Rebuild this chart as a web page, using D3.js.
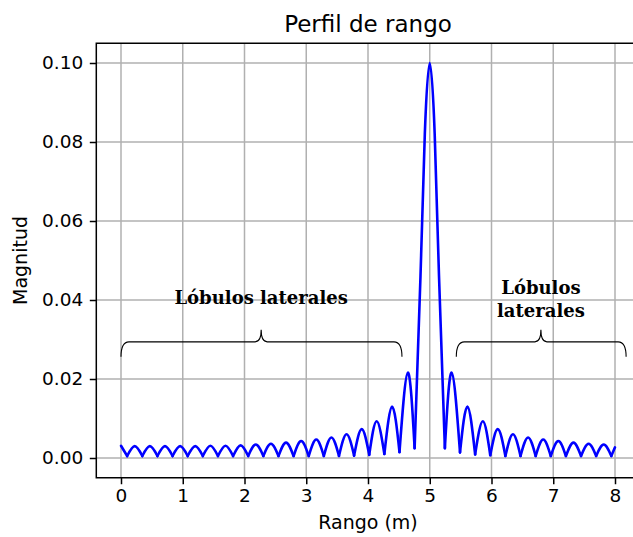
<!DOCTYPE html>
<html><head><meta charset="utf-8">
<script src="https://cdn.jsdelivr.net/npm/d3@7"></script>
<style>html,body{margin:0;padding:0;background:#fff}</style>
</head><body>
<script>
// ---- data ----
const xTicks = [0,1,2,3,4,5,6,7,8];
const yTicks = [0.00,0.02,0.04,0.06,0.08,0.10];
// trough positions (local minima) of the range profile
const troughX = [0.10,0.345,0.59,0.835,1.08,1.325,1.57,1.815,2.06,2.305,2.55,2.795,3.04,3.285,3.53,3.775,4.02,4.265,4.51,4.755,
                 5.245,5.49,5.735,5.98,6.225,6.47,6.715,6.96,7.205,7.45,7.695,7.94];
const troughY = [0.0005,0.0005,0.0005,0.0005,0.0005,0.0005,0.0005,0.0005,0.0005,0.0005,0.0005,0.0005,0.0005,0.0005,0.0005,0.0006,0.0008,0.0010,0.0015,0.0025,
                 0.0025,0.0014,0.0009,0.0007,0.0005,0.0005,0.0005,0.0005,0.0005,0.0005,0.0005,0.0005];
// side-lobe peaks (one per lobe between consecutive troughs, main lobe excluded)
const peakX = [0.2225,0.4675,0.7125,0.9575,1.2025,1.4475,1.6925,1.9375,2.1825,2.4275,2.6725,2.9175,3.1625,3.4075,3.6525,3.8975,4.14,4.39,4.645,
               5.355,5.61,5.86,6.1025,6.3475,6.5925,6.8375,7.0825,7.3275,7.5725,7.8175];
const peakY = [0.0030,0.0030,0.0030,0.0030,0.0030,0.0031,0.0031,0.0032,0.0034,0.0036,0.0039,0.0043,0.0047,0.0052,0.0060,0.0073,0.0093,0.0130,0.0216,
               0.0216,0.0130,0.0093,0.0073,0.0060,0.0052,0.0047,0.0043,0.0039,0.0036,0.0034];
// main lobe samples
const mainX = [4.755,4.85,4.92,5.0,5.08,5.15,5.245];
const mainY = [0.0025,0.046,0.082,0.100,0.082,0.046,0.0025];
// curve ends
const startPt = [0.0, 0.0031];
const endPt = [8.0, 0.0027];

const W = 633, H = 537;
const svg = d3.select("body").append("svg").attr("width", W).attr("height", H)
  .style("font-family", "'DejaVu Sans', sans-serif");

const x = d3.scaleLinear().domain([-0.4, 8.4]).range([96.3, 639.7]);
const y = d3.scaleLinear().domain([-0.005, 0.105]).range([477.75, 43.25]);
const [x0, x1] = x.range(), [y0, y1] = y.range();

svg.append("clipPath").attr("id","clip").append("rect")
  .attr("x", x0).attr("y", y1).attr("width", x1 - x0).attr("height", y0 - y1);

// grid
const grid = svg.append("g").attr("stroke", "#b0b0b0").attr("stroke-width", 1.5);
grid.selectAll(".gx").data(xTicks).join("line")
  .attr("x1", d => x(d)).attr("x2", d => x(d)).attr("y1", y1).attr("y2", y0);
grid.selectAll(".gy").data(yTicks).join("line")
  .attr("y1", d => y(d)).attr("y2", d => y(d)).attr("x1", x0).attr("x2", x1);

// curve: each lobe as trough-peak-trough natural spline
const plot = svg.append("g").attr("clip-path", "url(#clip)");
const line = d3.line().x(d => x(d[0])).y(d => y(d[1])).curve(d3.curveNatural);
const segs = [];
segs.push([startPt, [troughX[0], troughY[0]]]);
let pi = 0;
for (let i = 0; i < troughX.length - 1; i++) {
  if (troughX[i] === 4.755) {
    segs.push(mainX.map((v, j) => [v, mainY[j]]));
  } else {
    segs.push([[troughX[i], troughY[i]], [peakX[pi], peakY[pi]], [troughX[i+1], troughY[i+1]]]);
    pi++;
  }
}
segs.push([[troughX[troughX.length-1], troughY[troughY.length-1]], endPt]);
plot.selectAll("path.lobe").data(segs).join("path")
  .attr("d", d => d.length === 2 ? d3.line().x(p => x(p[0])).y(p => y(p[1]))(d) : line(d))
  .attr("fill", "none").attr("stroke", "#0000ff").attr("stroke-width", 2.6)
  .attr("stroke-linecap", "round").attr("stroke-linejoin", "round");

// braces (annotations)
function brace(xa, xb, xm, yl) {
  const X0 = x(xa), X1 = x(xb), XM = x(xm), YL = y(yl);
  const r = 8, drop = 15, tip = 12;
  return `M${X0},${YL+drop} Q${X0},${YL} ${X0+r},${YL} L${XM-6},${YL} Q${XM},${YL} ${XM},${YL-tip} ` +
         `Q${XM},${YL} ${XM+6},${YL} L${X1-r},${YL} Q${X1},${YL} ${X1},${YL+drop}`;
}
const ann = svg.append("g");
ann.append("path").attr("d", brace(0.0, 4.55, 2.27, 0.0294)).attr("fill","none").attr("stroke","#000").attr("stroke-width",1.1);
ann.append("path").attr("d", brace(5.43, 8.18, 6.8, 0.0294)).attr("fill","none").attr("stroke","#000").attr("stroke-width",1.1);
const serif = "'DejaVu Serif', serif";
const afs = "18px";
ann.append("text").attr("x", x(2.27)).attr("y", y(0.0389)).attr("text-anchor","middle")
  .style("font-family", serif).style("font-weight","bold").style("font-size",afs).text("Lóbulos laterales");
ann.append("text").attr("x", x(6.8)).attr("y", y(0.0414)).attr("text-anchor","middle")
  .style("font-family", serif).style("font-weight","bold").style("font-size",afs).text("Lóbulos");
ann.append("text").attr("x", x(6.8)).attr("y", y(0.0358)).attr("text-anchor","middle")
  .style("font-family", serif).style("font-weight","bold").style("font-size",afs).text("laterales");

// axes
const fs = "18.5px";
const ax = svg.append("g").attr("transform", `translate(0,${y0})`)
  .call(d3.axisBottom(x).tickValues(xTicks).tickFormat(d3.format("d")).tickSize(6.5).tickPadding(5));
const ay = svg.append("g").attr("transform", `translate(${x0},0)`)
  .call(d3.axisLeft(y).tickValues(yTicks).tickFormat(d3.format(".2f")).tickSize(6.5).tickPadding(6.5));
[ax, ay].forEach(g => {
  g.select(".domain").remove();
  g.selectAll("line").attr("stroke", "#000").attr("stroke-width", 1.5);
  g.selectAll("text").style("font-size", fs).style("font-family", "'DejaVu Sans', sans-serif").attr("fill", "#000");
});
// frame
svg.append("rect").attr("x", x0).attr("y", y1).attr("width", x1 - x0).attr("height", y0 - y1)
  .attr("fill", "none").attr("stroke", "#000").attr("stroke-width", 1.5);

// labels
svg.append("text").attr("x", (x0 + x1) / 2).attr("y", 32).attr("text-anchor", "middle")
  .style("font-size", "23px").text("Perfil de rango");
svg.append("text").attr("x", (x0 + x1) / 2).attr("y", 529).attr("text-anchor", "middle")
  .style("font-size", "19px").text("Rango (m)");
svg.append("text").attr("transform", `translate(27,${(y0 + y1) / 2}) rotate(-90)`).attr("text-anchor", "middle")
  .style("font-size", "19px").text("Magnitud");
</script>
</body></html>
